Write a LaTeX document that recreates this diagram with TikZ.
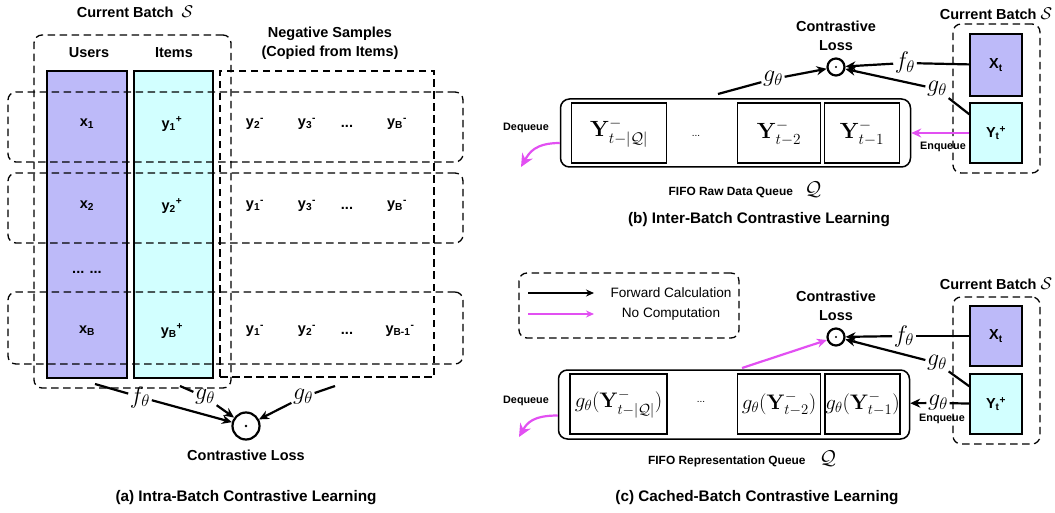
\documentclass[tikz,border=0pt]{standalone}
\usepackage{fix-cm}
\usepackage{amsmath}
\usepackage[no-math]{fontspec}
\setmainfont{Liberation Sans}
\usetikzlibrary{positioning,arrows.meta}
\definecolor{userpurple}{RGB}{189,186,249}
\definecolor{itemcyan}{RGB}{210,255,255}
\definecolor{nocompcol}{RGB}{226,80,242}
\newcommand{\batchS}{{\fontsize{17}{17}\selectfont$\mathcal{S}$}}

\begin{document}
\begin{tikzpicture}[x=1pt,y=-1pt,
    every node/.style={inner sep=0pt},
    txt/.style={font=\fontsize{14.5}{19}\selectfont\bfseries},
    smalltxt/.style={font=\fontsize{10.8}{12}\selectfont\bfseries},
    fifotxt/.style={font=\fontsize{11.9}{13}\selectfont\bfseries},
    captxt/.style={font=\fontsize{15.3}{18}\selectfont\bfseries},
    legtxt/.style={font=\fontsize{13.6}{15}\selectfont},
    mathlbl/.style={font=\fontsize{24}{24}\selectfont,inner sep=1.5pt},
    colbox/.style={draw,line width=1.4pt},
    dashbox/.style={draw,line width=1.3pt,dash pattern=on 7.5pt off 4.5pt},
    queuebox/.style={draw,line width=1.5pt,rounded corners=9pt},
    slot/.style={draw,line width=1.6pt,minimum height=60pt},
    lossdot/.style={circle,draw,line width=2.2pt},
    plain/.style={line width=2.2pt},
    fwd/.style={line width=2.2pt,-{Stealth[length=10pt,width=9pt]}},
    nocomp/.style={line width=2.2pt,nocompcol,-{Stealth[length=10pt,width=9pt]}}]
\useasboundingbox (0,0) rectangle (1055,513);

% (a) intra-batch
\node[colbox,fill=userpurple,minimum width=80pt,minimum height=307pt] (users) at (87,224.5) {};
\node[colbox,fill=itemcyan,minimum width=79pt,minimum height=307pt] (items) at (173.5,224.5) {};
\node[dashbox,minimum width=214pt,minimum height=306pt] (neg) at (327,224) {};
\node[dashbox,rounded corners=8pt,minimum width=197pt,minimum height=353pt] (batcha) at (132.5,211.5) {};
\foreach \y/\h [count=\i] in {127/70,208/70,328/72}
  \node[dashbox,rounded corners=8pt,minimum width=455pt,minimum height=\h pt] (row\i) at (235.5,\y) {};

\node[txt] (cura) at (135,12) {Current Batch \ \batchS};
\node[txt] (usr) at (89,53) {Users};
\node[txt] (itm) at (174,53) {Items};
\node[txt,align=center] (negl) at (330,43.5) {Negative Samples\\(Copied from Items)};

\node[txt] (x1) at (87,124) {x\textsubscript{1}};
\node[txt] (y1p) at (172,124) {y\textsubscript{1}\textsuperscript{+}};
\node[txt] (n12) at (255,124) {y\textsubscript{2}\textsuperscript{-}};
\node[txt] (n13) at (307,124) {y\textsubscript{3}\textsuperscript{-}};
\node[txt] (n1d) at (347,126) {...};
\node[txt] (n1b) at (397,124) {y\textsubscript{B}\textsuperscript{-}};

\node[txt] (x2) at (87,206) {x\textsubscript{2}};
\node[txt] (y2p) at (172,206) {y\textsubscript{2}\textsuperscript{+}};
\node[txt] (n21) at (255,206) {y\textsubscript{1}\textsuperscript{-}};
\node[txt] (n23) at (307,206) {y\textsubscript{3}\textsuperscript{-}};
\node[txt] (n2d) at (347,208) {...};
\node[txt] (n2b) at (397,206) {y\textsubscript{B}\textsuperscript{-}};

\node[txt] (xdots) at (87,272) {... ...};

\node[txt] (xB) at (87,331) {x\textsubscript{B}};
\node[txt] (yBp) at (172,331) {y\textsubscript{B}\textsuperscript{+}};
\node[txt] (n31) at (255,331) {y\textsubscript{1}\textsuperscript{-}};
\node[txt] (n32) at (307,331) {y\textsubscript{2}\textsuperscript{-}};
\node[txt] (n3d) at (347,333) {...};
\node[txt] (n3b) at (400,331) {y\textsubscript{B-1}\textsuperscript{-}};

\coordinate (fsa) at (95,384);
\coordinate (gsa) at (180,386);
\coordinate (gna) at (335,386);
\node[mathlbl] (fa) at (140,397) {$f_\theta$};
\node[mathlbl] (ga) at (205,397) {$g_\theta$};
\node[mathlbl] (gb) at (303,397) {$g_\theta$};
\node[lossdot,minimum size=27pt] (lossa) at (246,426) {};
\fill (lossa) circle (1.4pt);
\draw[plain] (fsa) -- (fa);
\draw[fwd] (fa) -- (lossa);
\draw[plain] (gsa) -- (ga);
\draw[fwd] (ga) -- (lossa);
\draw[plain] (gna) -- (gb);
\draw[fwd] (gb) -- (lossa);
\node[txt] (cla) at (246,455) {Contrastive Loss};
\node[captxt] (capa) at (246,498) {(a) Intra-Batch Contrastive Learning};

% (b) inter-batch
\node[txt] (curb) at (996,14) {Current Batch \batchS};
\node[dashbox,rounded corners=8pt,minimum width=87pt,minimum height=149pt] (batchb) at (996.5,98.5) {};
\node[colbox,fill=userpurple,minimum width=52pt,minimum height=62pt,txt] (xtb) at (996,65) {X\textsubscript{t}};
\node[colbox,fill=itemcyan,minimum width=52pt,minimum height=60pt,txt] (ytb) at (996,133) {Y\textsubscript{t}\textsuperscript{+}};
\node[queuebox,minimum width=350pt,minimum height=68pt] (queueb) at (735.5,133) {};
\node[slot,minimum width=95pt,font=\fontsize{22}{22}\selectfont] (qb1) at (619,133) {$\mathbf{Y}^-_{t-|\mathcal{Q}|}$};
\node[slot,minimum width=83pt,font=\fontsize{22}{22}\selectfont] (qb2) at (779,133) {$\mathbf{Y}^-_{t-2}$};
\node[slot,minimum width=75pt,font=\fontsize{22}{22}\selectfont] (qb3) at (862,133) {$\mathbf{Y}^-_{t-1}$};
\node[font=\fontsize{10}{10}\selectfont] (dotsb) at (696,136) {...};
\node[txt,align=center] (clb) at (836,36) {Contrastive\\Loss};
\node[lossdot,minimum size=17pt] (lossb) at (836,67) {};
\fill (lossb) circle (1.2pt);
\node[mathlbl] (fb) at (905,63) {$f_\theta$};
\node[mathlbl] (gyb) at (937,89) {$g_\theta$};
\node[mathlbl] (gqb) at (773,79) {$g_\theta$};
\coordinate (qtb) at (718,94);
\draw[plain] (xtb) -- (fb);
\draw[fwd] (fb) -- (lossb);
\draw[plain] ([yshift=-12pt]ytb.north west) -- (gyb);
\draw[fwd] (gyb) -- (lossb);
\draw[plain] (qtb) -- (gqb);
\draw[fwd] (gqb) -- (lossb);
\draw[nocomp] (ytb) -- (queueb);
\node[smalltxt] (enqb) at (943,147) {Enqueue};
\node[smalltxt] (deqb) at (526,128) {Dequeue};
\coordinate (deqendb) at (521,167);
\draw[nocomp,-{Stealth[length=13pt,width=12pt]}] ([yshift=-10pt]queueb.west) .. controls +(-25,0) and +(8,-14) .. (deqendb);
\node[fifotxt] (fifob) at (745,190) {FIFO Raw Data Queue\hspace{12pt}{\fontsize{20}{20}\selectfont$\mathcal{Q}$}};
\node[captxt] (capb) at (759,220) {(b) Inter-Batch Contrastive Learning};

% (c) cached-batch
\node[dashbox,rounded corners=8pt,minimum width=220pt,minimum height=65pt] (legend) at (629,305.5) {};
\coordinate (lf1) at (528,293);
\coordinate (lf2) at (594,293);
\coordinate (ln1) at (528,314);
\coordinate (ln2) at (594,314);
\draw[line width=1.3pt,-{Stealth[length=8pt,width=7pt]}] (lf1) -- (lf2);
\draw[line width=1.3pt,nocompcol,-{Stealth[length=8pt,width=7pt]}] (ln1) -- (ln2);
\node[legtxt] (lfw) at (671,293) {Forward Calculation};
\node[legtxt] (lnc) at (671,314) {No Computation};

\node[txt] (curc) at (996,284) {Current Batch \batchS};
\node[dashbox,rounded corners=8pt,minimum width=87pt,minimum height=147pt] (batchc) at (996.5,370.5) {};
\node[colbox,fill=userpurple,minimum width=52pt,minimum height=60pt,txt] (xtc) at (996,336) {X\textsubscript{t}};
\node[colbox,fill=itemcyan,minimum width=52pt,minimum height=60pt,txt] (ytc) at (996,404) {Y\textsubscript{t}\textsuperscript{+}};
\node[queuebox,minimum width=351pt,minimum height=69pt] (queuec) at (734,404.5) {};
\node[slot,minimum width=96.5pt,font=\fontsize{21}{21}\selectfont] (qc1) at (618.5,404) {$g_\theta(\mathbf{Y}^-_{t-|\mathcal{Q}|})$};
\node[slot,minimum width=83pt,font=\fontsize{21}{21}\selectfont] (qc2) at (779,404) {$g_\theta(\mathbf{Y}^-_{t-2})$};
\node[slot,minimum width=75pt,font=\fontsize{21}{21}\selectfont] (qc3) at (862.5,404) {$g_\theta(\mathbf{Y}^-_{t-1})$};
\node[font=\fontsize{10}{10}\selectfont] (dotsc) at (701,402) {...};
\node[txt,align=center] (clc) at (836,306) {Contrastive\\Loss};
\node[lossdot,minimum size=17pt] (lossc) at (836,337) {};
\fill (lossc) circle (1.2pt);
\node[mathlbl] (fc) at (904,336) {$f_\theta$};
\node[mathlbl] (gyc) at (937,363) {$g_\theta$};
\node[mathlbl] (gec) at (938,403) {$g_\theta$};
\coordinate (qtc) at (742,368);
\draw[plain] (xtc) -- (fc);
\draw[fwd] (fc) -- (lossc);
\draw[plain] ([yshift=-13pt]ytc.north west) -- (gyc);
\draw[fwd] (gyc) -- (lossc);
\draw[nocomp] (qtc) -- (lossc);
\draw[plain] (ytc) -- (gec);
\draw[fwd] (gec) -- (queuec);
\node[smalltxt] (enqc) at (942,419) {Enqueue};
\node[smalltxt] (deqc) at (526,401) {Dequeue};
\coordinate (deqendc) at (519,437);
\draw[nocomp,-{Stealth[length=13pt,width=12pt]}] ([yshift=-11pt]queuec.west) .. controls +(-25,0) and +(8,-14) .. (deqendc);
\node[fifotxt] (fifoc) at (742,459) {FIFO Representation Queue\hspace{14pt}{\fontsize{20}{20}\selectfont$\mathcal{Q}$}};
\node[captxt] (capc) at (757,498) {(c) Cached-Batch Contrastive Learning};
\end{tikzpicture}
\end{document}
